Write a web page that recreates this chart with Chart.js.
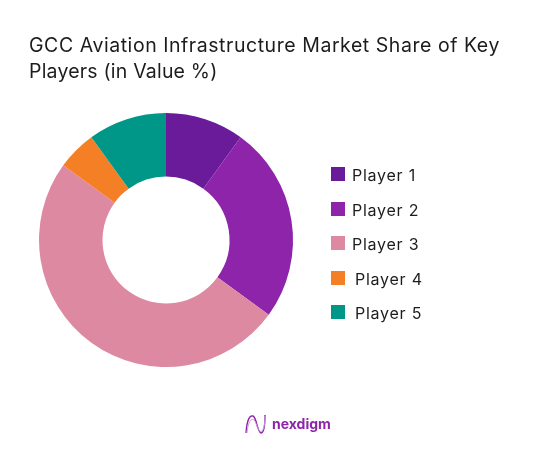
<!DOCTYPE html>
<html>
<head>
<meta charset="utf-8">
<script src="https://cdn.jsdelivr.net/npm/chart.js@4"></script>
<style>
    html, body { margin: 0; padding: 0; background: #fff; }
    body { width: 559px; height: 456px; position: relative; overflow: hidden; font-family: Inter, sans-serif; color: #1c1c1c; }
    #wrap { position: absolute; left: 0; top: 0; width: 559px; height: 456px; }
    #title { position: absolute; left: 29px; top: 32px; width: 510px; font-size: 19.5px; line-height: 26px; white-space: nowrap; }
    .item { position: absolute; font-size: 16px; letter-spacing: 0.75px; line-height: 20px; white-space: nowrap; }
    .swatch { position: absolute; width: 14px; height: 14px; }
    #logoText { position: absolute; left: 272px; top: 414px; font-size: 14px; line-height: 20px; font-weight: 700; color: #8e24aa; }
    #logo { position: absolute; left: 245px; top: 413px; }
</style>
</head>
<body>
<div id="wrap"><canvas id="shareChart"></canvas></div>
<div id="title"></div>
<div id="legend"></div>
<svg id="logo" width="22" height="23" viewBox="0 0 22 23" fill="none">
    <path d="M1 20 C2 6 5 2 8 3 C12 5 12 19 16 20 C19 20 20 12 20 2" stroke="#8e24aa" stroke-width="1.4"/>
    <path d="M2 20 C3 9 6 5 9 7 C12 10 13 21 17 18 C19 16 20 10 20 3" stroke="#c99ad8" stroke-width="1"/>
</svg>
<div id="logoText">nexdigm</div>
<script>
let titleLines = ['GCC Aviation Infrastructure Market Share of Key', 'Players (in Value %)'];
let players = ['Player 1', 'Player 2', 'Player 3', 'Player 4', 'Player 5'];
let shares = [10, 25, 50, 5, 10];
let colors = ['#6a1b9a', '#8e24aa', '#de89a2', '#f57f25', '#009688'];

// second title line runs tighter than the first
let titleSpacing = ['0.55px', '0.2px'];
titleLines.forEach((line, index) => {
    let row = document.createElement('div');
    row.style.letterSpacing = titleSpacing[index];
    row.textContent = line;
    document.getElementById('title').appendChild(row);
});

// legend is hand placed, the last two rows sit a little to the right
let legendTop = [165, 200, 234, 269, 303];
let legendTextLeft = [352, 352, 352, 355, 355];
let legend = document.getElementById('legend');
players.forEach((player, index) => {
    let swatch = document.createElement('div');
    swatch.className = 'swatch';
    swatch.style.left = '331px';
    swatch.style.top = (legendTop[index] + 2) + 'px';
    swatch.style.background = colors[index];
    legend.appendChild(swatch);

    let item = document.createElement('div');
    item.className = 'item';
    item.style.left = legendTextLeft[index] + 'px';
    item.style.top = legendTop[index] + 'px';
    item.textContent = player;
    legend.appendChild(item);
});

let ctx = document.getElementById('shareChart').getContext('2d');
new Chart(ctx, {
    type: 'doughnut',
    data: {
        labels: players,
        datasets: [{
            data: shares,
            backgroundColor: colors,
            borderWidth: 0
        }]
    },
    options: {
        responsive: true,
        maintainAspectRatio: false,
        animation: false,
        cutout: '50%',
        layout: {
            padding: { left: 39, right: 266, top: 113, bottom: 89 }
        },
        plugins: {
            legend: { display: false },
            title: { display: false },
            tooltip: { enabled: false }
        }
    }
});
</script>
</body>
</html>
